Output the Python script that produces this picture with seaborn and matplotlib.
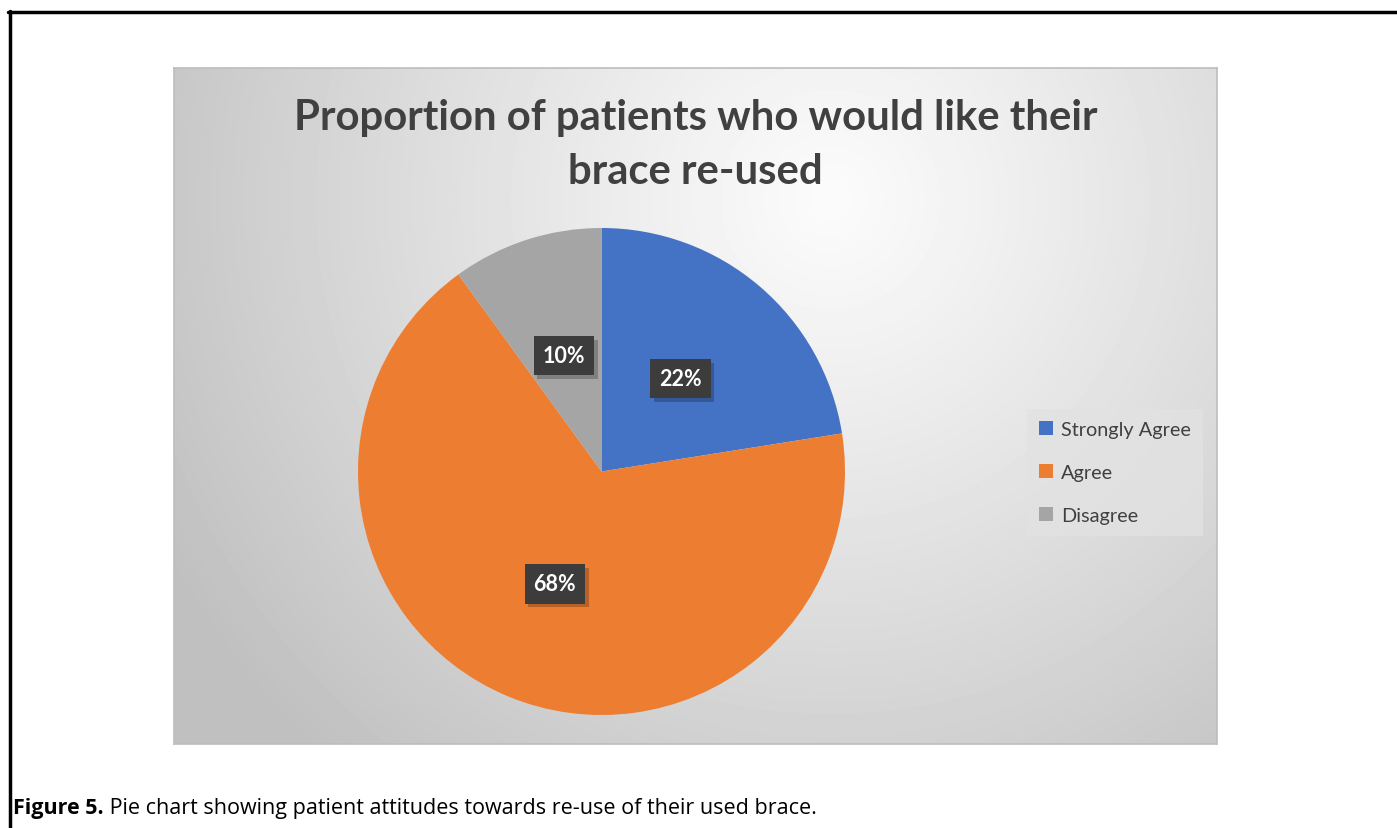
import numpy as np
import matplotlib
matplotlib.use("Agg")
import matplotlib.pyplot as plt
import matplotlib.patheffects as pe
from matplotlib.lines import Line2D
import seaborn as sns

# ---- data ----
categories = ["Strongly Agree", "Agree", "Disagree"]
shares = [22.5, 67.5, 10]          # slice sizes
pct_labels = ["22%", "68%", "10%"]  # labels as printed on the chart
title_lines = ["Proportion of patients who would like their", "brace re-used"]
caption_bold = "Figure 5."
caption_text = " Pie chart showing patient attitudes towards re-use of their used brace."

sns.set_theme(style="white")
plt.rcParams["font.family"] = ["Lato", "DejaVu Sans"]
colors = sns.color_palette(["#4472C4", "#ED7D31", "#A5A5A5"])

W, H = 1397, 829
fig = plt.figure(figsize=(W / 100, H / 100), dpi=100)
fig.patch.set_facecolor("white")

def fx(px):
    return px / W

def fy(py):
    return 1 - py / H

# chart area with radial gradient
x0, x1, y0, y1 = 174, 1217, 69, 745
bg = fig.add_axes([fx(x0), fy(y1), fx(x1 - x0), (y1 - y0) / H])
gx = np.arange(x0, x1)
gy = np.arange(y0, y1)
GX, GY = np.meshgrid(gx, gy)
cx, cy = 830, 200
d = np.sqrt((GX - cx) ** 2 + (GY - cy) ** 2) / 760.0
d = np.clip(d, 0, 1)
val = 0.985 - (0.985 - 0.75) * d ** 1.1
bg.imshow(val, cmap="gray", vmin=0, vmax=1, aspect="auto", interpolation="bilinear")
bg.set_xticks([]); bg.set_yticks([])
for s in bg.spines.values():
    s.set_color("#bdbdbd"); s.set_linewidth(1.2)

# pie axes
pcx, pcy, r = 601.5, 472.5, 243.5
ax = fig.add_axes([fx(pcx - r), fy(pcy + r), 2 * r / W, 2 * r / H])
ax.set_facecolor("none")
wedges, texts, autotexts = ax.pie(
    shares, colors=colors, startangle=90, counterclock=False,
    autopct="%.0f%%", pctdistance=0.5,
    wedgeprops=dict(linewidth=0),
    textprops=dict(color="white", fontsize=15.5, fontweight="bold"),
)
ax.set_xlim(-1, 1); ax.set_ylim(-1, 1)
ax.set_aspect("equal")
ax.axis("off")
for t, lab in zip(autotexts, pct_labels):
    t.set_text(lab)
    t.set_bbox(dict(boxstyle="square,pad=0.42", fc="#3c3c3c", ec="none"))
    t.get_bbox_patch().set_path_effects([
        pe.SimplePatchShadow(offset=(2.5, -2.5), shadow_rgbFace="#000000", alpha=0.22),
        pe.Normal()])

# legend
leg = fig.legend(
    wedges, categories, loc="center left",
    bbox_to_anchor=(fx(1027), fy(473.5)), bbox_transform=fig.transFigure,
    frameon=True, fontsize=14.3, handlelength=0.7, handleheight=0.7,
    handletextpad=0.4, labelspacing=1.3, borderpad=0.62, borderaxespad=0,
    fancybox=False,
)
leg.get_frame().set_facecolor("#e2e2e2")
leg.get_frame().set_edgecolor("none")
leg.get_frame().set_alpha(0.8)
for t in leg.get_texts():
    t.set_color("#404040")

# title
fig.text(fx(695.5), fy(118), title_lines[0], ha="center", va="center",
         fontsize=30.2, fontweight="bold", color="#404040")
fig.text(fx(695.5), fy(172), title_lines[1], ha="center", va="center",
         fontsize=30.2, fontweight="bold", color="#404040")

# caption
cap_font = ["Open Sans", "DejaVu Sans"]
t1 = fig.text(fx(13), fy(809), caption_bold, ha="left", va="center",
              fontsize=15.45, fontweight="bold", color="black", family=cap_font)
renderer = fig.canvas.get_renderer()
bb = t1.get_window_extent(renderer)
fig.text(bb.x1 / W, fy(809), caption_text, ha="left", va="center",
         fontsize=15.45, color="black", family=cap_font)

# outer border (top & left)
fig.add_artist(Line2D([fx(8), 1.0], [fy(12.5), fy(12.5)], color="black", lw=2.5,
                      transform=fig.transFigure))
fig.add_artist(Line2D([fx(9.5), fx(9.5)], [fy(11.5), 0.0], color="black", lw=2.5,
                      transform=fig.transFigure))

fig.savefig("out.png", dpi=100)
